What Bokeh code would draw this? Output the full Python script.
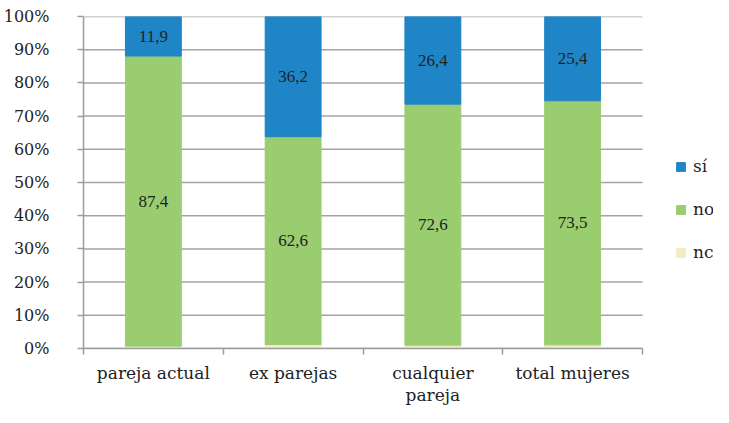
from bokeh.plotting import figure
from bokeh.models import ColumnDataSource, FixedTicker, Legend, LegendItem, Range1d, LabelSet
from bokeh.embed import file_html
from bokeh.resources import INLINE

categories = ["pareja actual", "ex parejas", "cualquier\npareja", "total mujeres"]
si = [11.9, 36.2, 26.4, 25.4]
no = [87.4, 62.6, 72.6, 73.5]
nc = [0.7, 1.2, 1.0, 1.1]
y_ticks = [0, 10, 20, 30, 40, 50, 60, 70, 80, 90, 100]

FONT = "DejaVu Serif"
FS = "17px"
C_SI = "#1f85c7"
C_NO = "#99cd70"
C_NC = "#f3ecc2"
GRAY = "#9c9c9c"

n = len(categories)
x = [i + 0.5 for i in range(n)]
nc_top = nc[:]
no_top = [a + b for a, b in zip(nc, no)]
si_top = [a + b for a, b in zip(no_top, si)]

src = ColumnDataSource(dict(
    x=x, nc_b=[0] * n, nc_t=nc_top, no_t=no_top, si_t=si_top,
    no_mid=[a + b / 2 for a, b in zip(nc_top, no)],
    si_mid=[a + b / 2 for a, b in zip(no_top, si)],
    no_lbl=[f"{v:.1f}".replace(".", ",") for v in no],
    si_lbl=[f"{v:.1f}".replace(".", ",") for v in si],
))

W, H = 713, 407
BL, BT, BB, BR = 83, 16, 56, 0
frame_w = W - BL - BR
cat_px = 139.75
p = figure(width=W, height=H, output_backend="svg", toolbar_location=None,
           x_range=Range1d(0, frame_w / cat_px), y_range=Range1d(0, 100),
           min_border_left=BL, min_border_top=BT, min_border_bottom=BB, min_border_right=BR)
p.outline_line_color = None

# horizontal gridlines only across the categories
p.xgrid.visible = False
p.ygrid.visible = False
p.segment(x0=[0] * len(y_ticks), x1=[n] * len(y_ticks), y0=y_ticks, y1=y_ticks,
          line_color="#a3a3a3", line_width=1.5)

w = 0.4
r_nc = p.vbar(x="x", bottom="nc_b", top="nc_t", width=w, color=C_NC, source=src)
r_no = p.vbar(x="x", bottom="nc_t", top="no_t", width=w, color=C_NO, source=src)
r_si = p.vbar(x="x", bottom="no_t", top="si_t", width=w, color=C_SI, source=src)

for col_y, col_t in (("no_mid", "no_lbl"), ("si_mid", "si_lbl")):
    p.add_layout(LabelSet(x="x", y=col_y, text=col_t, source=src, text_align="center",
                          text_baseline="middle", text_font=FONT, text_font_size=FS,
                          text_color="#222222"))

for ax in (p.xaxis, p.yaxis):
    ax.axis_line_color = GRAY
    ax.axis_line_width = 1.5
    ax.major_tick_line_color = GRAY
    ax.major_tick_line_width = 1.5
    ax.major_label_text_font = FONT
    ax.major_label_text_font_size = FS
    ax.major_label_text_color = "#222222"

p.yaxis.ticker = FixedTicker(ticks=y_ticks)
p.yaxis.major_label_overrides = {v: f"{v}%" for v in y_ticks}
p.yaxis.minor_tick_line_color = None
p.yaxis.major_tick_in = 0
p.yaxis.major_tick_out = 6
p.yaxis.major_label_standoff = 28
p.yaxis.major_label_text_font_size = "16px"

p.xaxis.bounds = (0, n)
p.xaxis.ticker = FixedTicker(ticks=x, minor_ticks=list(range(n + 1)))
p.xaxis.major_label_overrides = {v: c for v, c in zip(x, categories)}
p.xaxis.major_tick_in = 0
p.xaxis.major_tick_out = 0
p.xaxis.minor_tick_in = 0
p.xaxis.minor_tick_out = 6
p.xaxis.major_label_standoff = 8
p.xaxis.major_label_text_line_height = 1.1
p.xaxis.minor_tick_line_color = GRAY
p.xaxis.minor_tick_line_width = 1.5

legend = Legend(items=[LegendItem(label="sí", renderers=[r_si]),
                       LegendItem(label="no", renderers=[r_no]),
                       LegendItem(label="nc", renderers=[r_nc])],
                location=(592, 86), orientation="vertical", border_line_color=None,
                label_text_font=FONT, label_text_font_size=FS, label_text_color="#222222",
                glyph_width=11, glyph_height=11, label_height=20, spacing=23, padding=0, margin=0,
                label_standoff=7, background_fill_alpha=0)
p.add_layout(legend, "center")

open("out.html", "w").write(file_html(p, INLINE))
